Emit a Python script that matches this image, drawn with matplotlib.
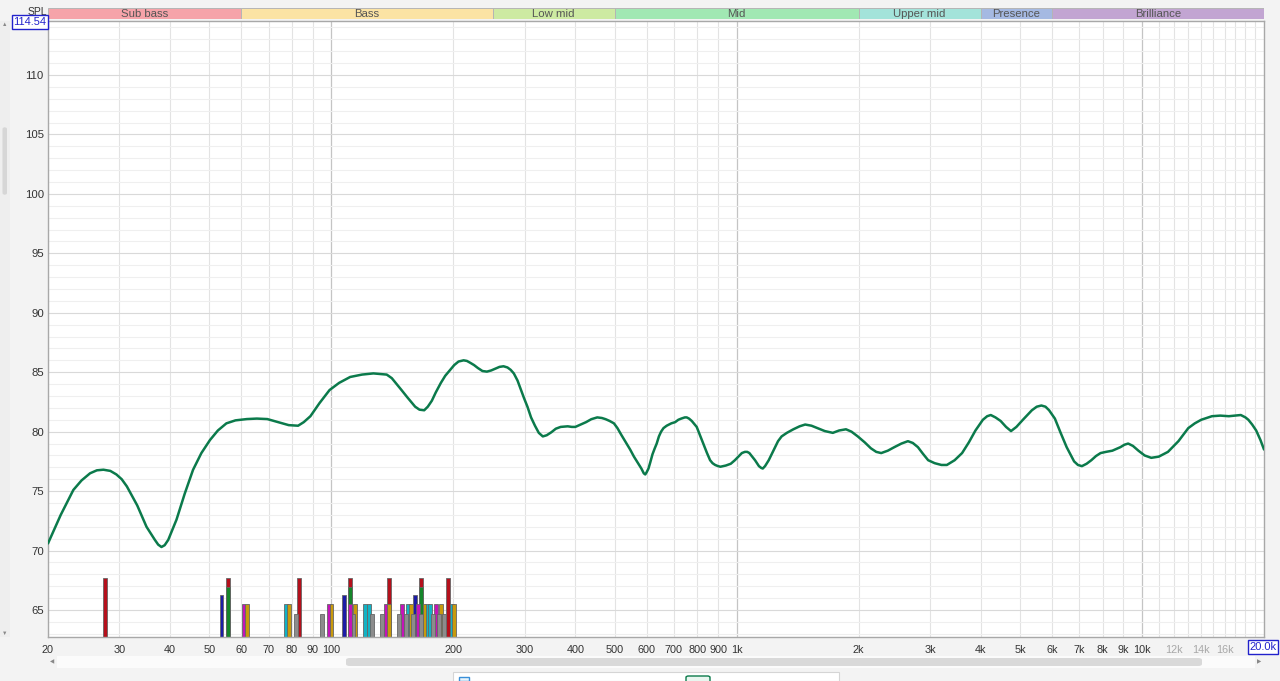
import numpy as np
import matplotlib
matplotlib.use("Agg")
import matplotlib.pyplot as plt
from matplotlib.patches import Rectangle, FancyBboxPatch
from matplotlib.ticker import FixedLocator, NullFormatter

plt.rcParams['font.family'] = ['Liberation Sans', 'DejaVu Sans']

# ---------------- data ----------------
freq = [20, 21.5, 23.1, 24.2, 25.4, 26.4, 27.4, 28.5, 29.5, 30.4, 31.3, 33.2, 35.0, 36.7,
        37.4, 38.1, 38.8, 39.6, 41.5, 43.5, 45.6, 47.8, 50.2, 52.5, 55.1, 58.0, 61.9, 65.5,
        69.5, 74.0, 78.5, 82.8, 85.5, 88.8, 93.5, 99.0, 104.5, 111.3, 119, 127, 137, 141,
        145, 149, 153.9, 161, 165, 169.5, 173, 177, 181, 186.3, 191, 196.5, 201, 206, 212,
        216, 220, 225, 230, 236, 242, 248, 254, 260, 266, 272, 277, 282, 288, 293, 299,
        304.7, 311, 318, 325, 332.5, 340, 349, 358, 368, 383, 392, 400, 412, 425, 438,
        453, 465, 475, 486, 498, 508, 520, 533, 546, 558, 570, 582, 590, 595, 600, 606,
        612, 620, 628, 635, 643, 651, 660, 672, 690, 705, 718, 730, 745, 753, 763, 775,
        786, 797, 812, 830, 845, 860, 872, 885, 900, 912, 940, 967, 990, 1010, 1030, 1048,
        1062, 1075, 1092, 1110, 1135, 1150, 1160, 1175, 1200, 1220, 1240, 1265, 1291,
        1330, 1380, 1430, 1476, 1530, 1582, 1650, 1727, 1790, 1861, 1920, 1990, 2070,
        2144, 2210, 2273, 2360, 2450, 2550, 2646, 2720, 2800, 2880, 2968, 3080, 3200,
        3301, 3450, 3599, 3740, 3883, 4050, 4150, 4236, 4350, 4480, 4620, 4752, 4900,
        5084, 5350, 5500, 5647, 5780, 5900, 6097, 6300, 6518, 6800, 6950, 7108, 7300,
        7500, 7700, 7903, 8150, 8450, 8850, 9050, 9246, 9500, 9800, 10150, 10540, 11000,
        11590, 12300, 13010, 13500, 14000, 14880, 15600, 16380, 17000, 17530, 18000,
        18300, 18700, 19130, 19600, 20000]
spl = [70.6, 73.0, 75.1, 75.9, 76.5, 76.75, 76.8, 76.7, 76.4, 76.0, 75.4, 73.8, 72.0, 70.9,
       70.5, 70.3, 70.45, 70.9, 72.6, 74.8, 76.8, 78.2, 79.3, 80.1, 80.7, 80.95, 81.06, 81.1,
       81.06, 80.8, 80.55, 80.5, 80.8, 81.3, 82.4, 83.5, 84.1, 84.6, 84.8, 84.9, 84.8, 84.5,
       84.0, 83.5, 82.9, 82.1, 81.85, 81.8, 82.1, 82.6, 83.3, 84.1, 84.7, 85.2, 85.6, 85.9, 86.0,
       85.95, 85.8, 85.6, 85.35, 85.1, 85.05, 85.15, 85.3, 85.45, 85.5, 85.4, 85.2, 84.9, 84.3, 83.6, 82.8,
       82.1, 81.2, 80.5, 79.9, 79.6, 79.7, 79.95, 80.25, 80.4, 80.45, 80.4, 80.4, 80.6, 80.8, 81.05,
       81.2, 81.15, 81.05, 80.9, 80.7, 80.3, 79.7, 79.1, 78.5, 77.9, 77.4, 76.9, 76.5, 76.4, 76.6, 76.9,
       77.4, 78.1, 78.6, 79.0, 79.6, 80.0, 80.3, 80.5, 80.7, 80.8, 81.0, 81.1, 81.2, 81.2, 81.1, 80.9,
       80.65, 80.4, 79.7, 78.9, 78.2, 77.6, 77.35, 77.2, 77.1, 77.05, 77.15, 77.3, 77.6, 77.9, 78.2, 78.3,
       78.3, 78.2, 77.9, 77.6, 77.1, 76.95, 76.9, 77.1, 77.6, 78.1, 78.6, 79.2, 79.6,
       79.9, 80.2, 80.45, 80.6, 80.5, 80.3, 80.05, 79.9, 80.1, 80.2, 80.0, 79.6, 79.1,
       78.6, 78.3, 78.2, 78.4, 78.7, 79.0, 79.2, 79.05, 78.7, 78.15, 77.6, 77.35, 77.2,
       77.2, 77.6, 78.2, 79.1, 80.1, 81.0, 81.3, 81.4, 81.2, 80.9, 80.4, 80.05, 80.4,
       81.0, 81.8, 82.1, 82.2, 82.1, 81.8, 81.1, 79.9, 78.7, 77.5, 77.2, 77.1, 77.3,
       77.6, 77.95, 78.2, 78.3, 78.4, 78.7, 78.9, 79.0, 78.8, 78.4, 78.0, 77.8, 77.9,
       78.3, 79.2, 80.3, 80.7, 81.0, 81.3, 81.35, 81.3, 81.35, 81.4, 81.2,
       81.0, 80.6, 80.1, 79.3, 78.5]

# room mode markers (frequency lists by colour) and marker level for each colour
red_modes = [27.7, 55.5, 83.3, 111.2, 139.0, 166.4, 194.4]
green_modes = [55.5, 111.2, 166.4]
blue_modes = [53.6, 107.3, 161.1]
magenta_modes = [60.7, 98.7, 111.2, 136.2, 149.4, 163.8, 181.5]
yellow_modes = [62.0, 78.5, 100.1, 114.6, 139.0, 157.0, 169.7, 186.8, 200.5]
cyan_modes = [77.3, 121.3, 123.6, 154.9, 171.9, 175.2, 198.6]
gray_modes = [81.7, 95.0, 113.4, 126.0, 133.6, 146.9, 152.5, 159.3, 166.4, 178.0, 184.3, 189.8]
mode_levels = {'red': 67.7, 'green': 66.95, 'blue': 66.26, 'magenta': 65.48,
               'yellow': 65.48, 'cyan': 65.48, 'gray': 64.66}

bands = ['Sub bass', 'Bass', 'Low mid', 'Mid', 'Upper mid', 'Presence', 'Brilliance']
band_edges = [20, 60, 250, 500, 2000, 4000, 6000, 20000]
band_colors = ['#f6a3a9', '#fbe3a4', '#cdeaa2', '#a1e8b3', '#a3e3da', '#a5b9e2', '#c2a5d2']

xtick_vals = [20, 30, 40, 50, 60, 70, 80, 90, 100, 200, 300, 400, 500, 600, 700, 800, 900,
              1000, 2000, 3000, 4000, 5000, 6000, 7000, 8000, 9000, 10000, 12000, 14000, 16000]
xtick_labels = ['20', '30', '40', '50', '60', '70', '80', '90', '100', '200', '300', '400',
                '500', '600', '700', '800', '900', '1k', '2k', '3k', '4k', '5k', '6k', '7k',
                '8k', '9k', '10k', '12k', '14k', '16k']
ytick_vals = [65, 70, 75, 80, 85, 90, 95, 100, 105, 110]

# ---------------- figure ----------------
W, H = 1280, 681
fig = plt.figure(figsize=(W / 100, H / 100), dpi=100, facecolor='#f3f3f3')

def fx(px):
    return px / W

def fy(py):
    return 1 - py / H

L, R, T, B = 48, 1264, 21, 637
ax = fig.add_axes([fx(L), fy(B), fx(R - L), (B - T) / H])
ax.set_facecolor('white')
ax.set_xscale('log')
ax.set_xlim(20, 20000)
ax.set_ylim(62.73, 114.54)

# grid
minor_x = []
for dec in [10, 100, 1000]:
    for m in range(2, 10):
        minor_x.append(m * dec)
minor_x = [v for v in minor_x if 20 <= v <= 10000] + list(range(11000, 20000, 1000))
for v in minor_x:
    ax.axvline(v, color='#e3e3e3', lw=0.8, zorder=0)
for v in [100, 1000, 10000]:
    ax.axvline(v, color='#c4c4c4', lw=0.9, zorder=0)
for v in range(63, 115):
    ax.axhline(v, color='#efefef' if v % 5 else '#d9d9d9', lw=0.8, zorder=0)

ax.xaxis.set_major_locator(FixedLocator(xtick_vals))
ax.xaxis.set_minor_locator(FixedLocator([]))
ax.set_xticks(xtick_vals)
ax.set_xticklabels(xtick_labels)
ax.xaxis.set_minor_formatter(NullFormatter())
ax.set_yticks(ytick_vals)
ax.tick_params(axis='both', length=0, labelcolor='#333333')
ax.tick_params(axis='x', pad=6, labelsize=7.8)
ax.tick_params(axis='y', pad=3, labelsize=8.2)
for lab in ax.get_xticklabels():
    if lab.get_text() in ('12k', '14k', '16k'):
        lab.set_color('#a8a8a8')
for s in ax.spines.values():
    s.set_color('#a8a8a8')
    s.set_linewidth(1.0)

# mode markers
hw = 10 ** 0.0047
def draw_modes(freqs, level, color):
    f = np.array(freqs, dtype=float)
    left = f / hw
    width = f * hw - left
    ax.bar(left, level - 62.0, width=width, bottom=62.0, align='edge', color=color,
           edgecolor='#666666', linewidth=0.6, zorder=2)

draw_modes(red_modes, mode_levels['red'], '#b5101c')
draw_modes(green_modes, mode_levels['green'], '#15862a')
draw_modes(blue_modes, mode_levels['blue'], '#1c1ca6')
draw_modes(cyan_modes, mode_levels['cyan'], '#12b3c4')
draw_modes(magenta_modes, mode_levels['magenta'], '#c414b8')
draw_modes(yellow_modes, mode_levels['yellow'], '#c89a0c')
draw_modes(gray_modes, mode_levels['gray'], '#8c8c8c')

# response curve
ax.plot(freq, spl, color='#0b7a4b', lw=1.8, zorder=3, solid_capstyle='round',
        solid_joinstyle='round')

# band header
bax = fig.add_axes([fx(L), fy(18.5), fx(R - L), 11 / H])
bax.set_xscale('log')
bax.set_xlim(20, 20000)
bax.set_ylim(0, 1)
bax.axis('off')
for i, name in enumerate(bands):
    a, b = band_edges[i], band_edges[i + 1]
    bax.add_patch(Rectangle((a, 0), b - a, 1, facecolor=band_colors[i], edgecolor='#b5b5b5', lw=0.7))
    bax.text(np.sqrt(a * b), 0.45, name, ha='center', va='center', fontsize=8.2, color='#555555')

# SPL label and boxed values
fig.text(fx(37), fy(12), 'SPL', ha='center', va='center', fontsize=7.5, color='#333333')
fig.text(fx(30), fy(22), '114.54', ha='center', va='center', fontsize=8, color='#2222cc',
         bbox=dict(boxstyle='square,pad=0.15', facecolor='white', edgecolor='#2222cc', lw=1))
fig.text(fx(1263), fy(647), '20.0k', ha='center', va='center', fontsize=8, color='#2222cc',
         bbox=dict(boxstyle='square,pad=0.15', facecolor='white', edgecolor='#2222cc', lw=1))

# scrollbars and decorations
fig.patches.append(Rectangle((0, fy(637)), fx(10), (637 - 21) / H, transform=fig.transFigure,
                             facecolor='#eeeeee', edgecolor='none'))
fig.patches.append(FancyBboxPatch((fx(2.5), fy(195)), fx(4.5), 68 / H,
                                  boxstyle='round,pad=0,rounding_size=0.003',
                                  transform=fig.transFigure, facecolor='#d6d6d6', edgecolor='none'))
fig.text(fx(5), fy(24), '▲', ha='center', va='center', fontsize=4, color='#888888')
fig.text(fx(5), fy(633), '▼', ha='center', va='center', fontsize=4, color='#888888')

fig.patches.append(Rectangle((fx(57), fy(668)), fx(1198), 12 / H, transform=fig.transFigure,
                             facecolor='#fbfbfb', edgecolor='none'))
fig.patches.append(FancyBboxPatch((fx(346), fy(666)), fx(856), 8 / H,
                                  boxstyle='round,pad=0,rounding_size=0.003',
                                  transform=fig.transFigure, facecolor='#d9d9d9', edgecolor='none'))
fig.text(fx(52), fy(662), '◀', ha='center', va='center', fontsize=4, color='#888888')
fig.text(fx(1259), fy(662), '▶', ha='center', va='center', fontsize=4, color='#888888')

# legend strip at the bottom
fig.patches.append(Rectangle((fx(453), 0), fx(386), 9 / H, transform=fig.transFigure,
                             facecolor='white', edgecolor='#d5d5d5', lw=0.8))
fig.patches.append(Rectangle((fx(459), 0), fx(10), 4 / H, transform=fig.transFigure,
                             facecolor='#e8f4fc', edgecolor='#3a8fd8', lw=1.0))
fig.patches.append(FancyBboxPatch((fx(686), -2 / H), fx(24), 7 / H,
                                  boxstyle='round,pad=0,rounding_size=0.002',
                                  transform=fig.transFigure, facecolor='#e8f6ef',
                                  edgecolor='#0b7a4b', lw=1.0))

fig.savefig('out.png', dpi=100, facecolor=fig.get_facecolor())
